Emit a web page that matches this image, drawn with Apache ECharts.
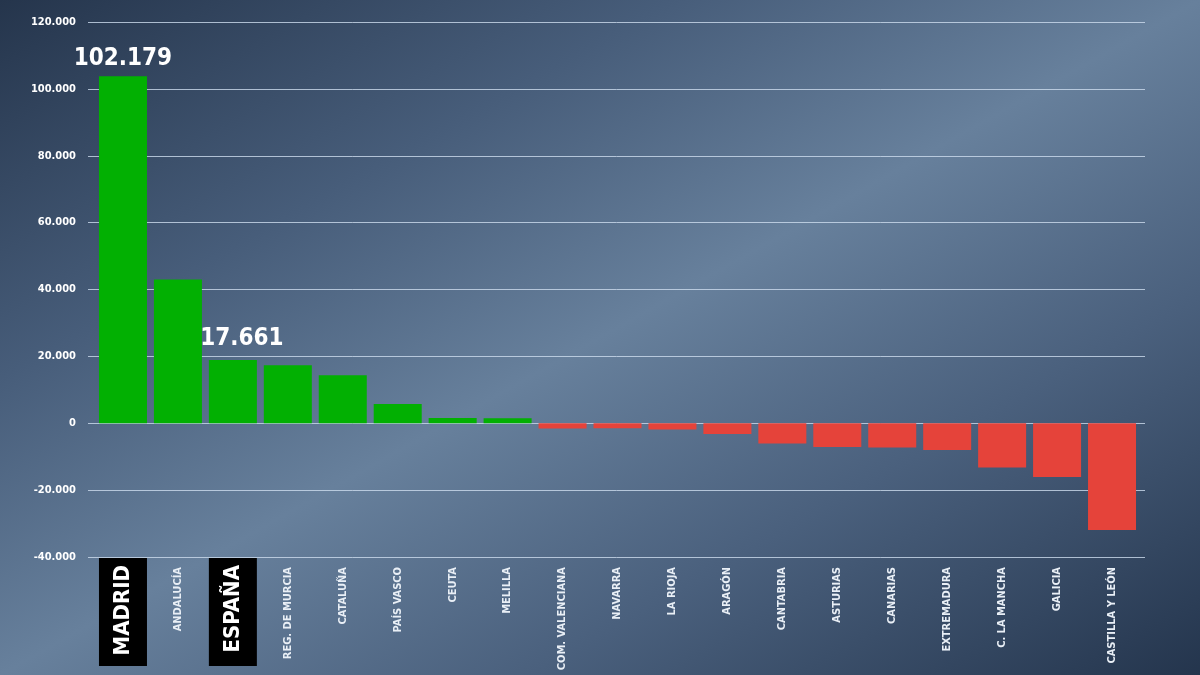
<!DOCTYPE html>
<html>
<head>
<meta charset="utf-8">
<script src="https://cdn.jsdelivr.net/npm/echarts@6/dist/echarts.min.js"></script>
<style>
  html, body { margin: 0; padding: 0; }
  body {
    width: 1200px; height: 675px; overflow: hidden;
    background: linear-gradient(to bottom right, #25354c 0%, #475d7a 28%, #67809c 50%, #4a607d 72%, #24354d 100%);
  }
  #chart { width: 1200px; height: 675px; }
</style>
</head>
<body>
<div id="chart"></div>
<script>
// comunidades, ordenadas de mayor a menor
const regions = ['MADRID', 'ANDALUCÍA', 'ESPAÑA', 'REG. DE MURCIA', 'CATALUÑA', 'PAÍS VASCO', 'CEUTA', 'MELILLA',
  'COM. VALENCIANA', 'NAVARRA', 'LA RIOJA', 'ARAGÓN', 'CANTABRIA', 'ASTURIAS', 'CANARIAS', 'EXTREMADURA',
  'C. LA MANCHA', 'GALICIA', 'CASTILLA Y LEÓN'];
const values = [103750, 43020, 18900, 17330, 14340, 5770, 1600, 1500,
  -1600, -1500, -1900, -3200, -6070, -7080, -7260, -7970,
  -13240, -16040, -31960];
const valueLabels = ['102.179', '', '17.661', '', '', '', '', '',
  '', '', '', '', '', '', '', '', '', '', ''];
const highlighted = ['MADRID', 'ESPAÑA'];
const yMin = -40000, yMax = 120000, yStep = 20000;

const FONT = "'DejaVu Sans Condensed', 'Liberation Sans Narrow', sans-serif";
const GREEN = '#02b002';
const RED = '#e5433a';

function fmt(v) {
  const s = String(Math.abs(v)).replace(/\B(?=(\d{3})+(?!\d))/g, '.');
  return (v < 0 ? '-' : '') + s;
}

const chart = echarts.init(document.getElementById('chart'), null, { renderer: 'canvas' });

const option = {
  backgroundColor: 'transparent',
  animation: false,
  grid: [
    // rejilla de fondo (lineas y etiquetas del eje Y)
    { left: 88, right: 55, top: 22, bottom: 118, outerBoundsMode: 'none', containLabel: false },
    // barras
    { left: 95.5, right: 60.5, top: 22, bottom: 118, outerBoundsMode: 'none', containLabel: false }
  ],
  xAxis: [
    { gridIndex: 0, type: 'value', min: 0, max: 1, show: false },
    {
      gridIndex: 1,
      type: 'category',
      data: regions,
      axisLine: { show: false },
      axisTick: { show: false },
      axisLabel: {
        interval: 0,
        rotate: 90,
        margin: 1,
        formatter: function (name) {
          return highlighted.indexOf(name) >= 0 ? '{hl|' + name + '}' : '{n|' + name + '}';
        },
        rich: {
          n: {
            fontFamily: FONT,
            fontSize: 11,
            fontWeight: 'bold',
            color: '#e9eff6',
            padding: [0, 9, 0, 0]
          },
          hl: {
            fontFamily: FONT,
            fontSize: 22,
            fontWeight: 'bold',
            color: '#ffffff',
            backgroundColor: '#000000',
            lineHeight: 26,
            width: 87,
            align: 'right',
            padding: [13, 7, 13, 14]
          }
        }
      }
    }
  ],
  yAxis: [
    {
      gridIndex: 0,
      type: 'value',
      min: yMin,
      max: yMax,
      interval: yStep,
      axisLine: { show: false },
      axisTick: { show: false },
      axisLabel: {
        margin: 12,
        fontFamily: FONT,
        fontSize: 11,
        fontWeight: 'bold',
        color: '#ffffff',
        formatter: fmt
      },
      splitLine: { lineStyle: { color: 'rgba(205,220,238,0.8)', width: 1 } }
    },
    {
      gridIndex: 1,
      type: 'value',
      min: yMin,
      max: yMax,
      interval: yStep,
      show: false,
      splitLine: { show: false }
    }
  ],
  series: [{
    type: 'bar',
    xAxisIndex: 1,
    yAxisIndex: 1,
    barWidth: 48,
    data: values.map((v, i) => ({
      value: v,
      itemStyle: { color: v >= 0 ? GREEN : RED },
      label: regions[i] === 'ESPAÑA' ? { offset: [9, -3] } : undefined
    })),
    label: {
      show: true,
      position: 'top',
      distance: 6,
      fontFamily: FONT,
      fontSize: 24,
      fontWeight: 'bold',
      color: '#ffffff',
      formatter: p => valueLabels[p.dataIndex]
    }
  }]
};

chart.setOption(option);
</script>
</body>
</html>
